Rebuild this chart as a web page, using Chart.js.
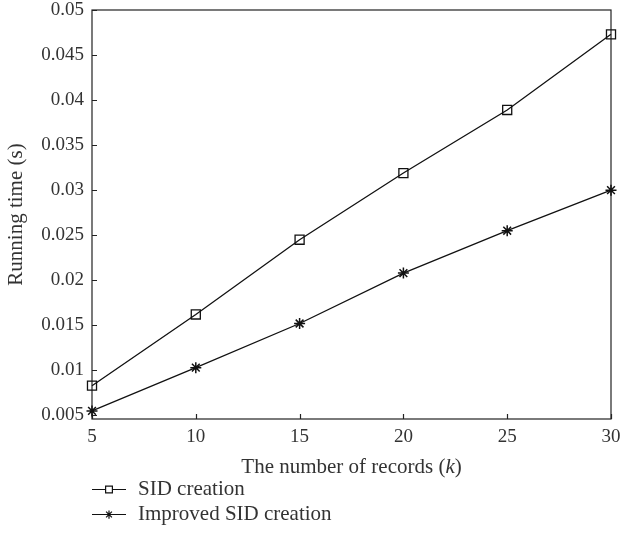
<!DOCTYPE html>
<html>
<head>
<meta charset="utf-8">
<script src="https://cdn.jsdelivr.net/npm/chart.js@4.4.1/dist/chart.umd.min.js"></script>
<style>
  html, body { margin: 0; padding: 0; background: #fff; }
</style>
</head>
<body>
<div style="width:621px;height:560px"><canvas id="runChart"></canvas></div>
<script>
// data
const records = [5, 10, 15, 20, 25, 30];
const sidCreation = [0.0083, 0.0162, 0.0245, 0.0319, 0.0389, 0.0473];
const improvedSidCreation = [0.0055, 0.0103, 0.0152, 0.0208, 0.0255, 0.0300];
const xTicks = [5, 10, 15, 20, 25, 30];
const yTicks = [0.005, 0.01, 0.015, 0.02, 0.025, 0.03, 0.035, 0.04, 0.045, 0.05];
const seriesNames = ['SID creation', 'Improved SID creation'];

const serif = 'Liberation Serif';
const textColor = '#333';

const toPoints = (ys) => records.map((x, i) => ({ x: x, y: ys[i] }));

// labels may stick out; keep the plot box where the figure has it
const noPad = s => { s.paddingTop = 0; s.paddingBottom = 0; s.paddingLeft = 0; s.paddingRight = 0; };

// box round the plot plus inward tick marks
const frame = {
  id: 'frame',
  beforeDatasetsDraw(chart) {
    const { ctx, chartArea: a, scales } = chart;
    ctx.save();
    ctx.strokeStyle = '#222';
    ctx.lineWidth = 1.2;
    ctx.strokeRect(a.left, a.top, a.right - a.left, a.bottom - a.top);
    ctx.beginPath();
    yTicks.forEach(v => {
      const y = Math.round(scales.y.getPixelForValue(v)) + 0.5;
      ctx.moveTo(a.left, y);
      ctx.lineTo(a.left + 5, y);
    });
    xTicks.forEach(v => {
      const x = Math.round(scales.x.getPixelForValue(v)) + 0.5;
      ctx.moveTo(x, a.bottom);
      ctx.lineTo(x, a.bottom - 5);
    });
    ctx.stroke();
    ctx.restore();
  },
  afterDraw(chart) {
    const { ctx, chartArea: a } = chart;
    ctx.save();
    // x axis title with italic k
    const parts = [
      ['The number of records (', '21px "' + serif + '"'],
      ['k', 'italic 21px "' + serif + '"'],
      [')', '21px "' + serif + '"']
    ];
    let total = 0;
    parts.forEach(p => { ctx.font = p[1]; total += ctx.measureText(p[0]).width; });
    let x = (a.left + a.right) / 2 - total / 2;
    ctx.fillStyle = textColor;
    ctx.textBaseline = 'middle';
    ctx.textAlign = 'left';
    parts.forEach(p => {
      ctx.font = p[1];
      ctx.fillText(p[0], x, 467);
      x += ctx.measureText(p[0]).width;
    });

    // legend below the axis
    const rows = [489, 514];
    chart.data.datasets.forEach((ds, i) => {
      const y = rows[i] + 0.5;
      ctx.strokeStyle = '#111';
      ctx.lineWidth = 1.2;
      ctx.beginPath();
      ctx.moveTo(92, y);
      ctx.lineTo(126, y);
      ctx.stroke();
      ctx.fillStyle = '#fff';
      Chart.helpers.drawPoint(ctx, {
        pointStyle: ds.pointStyle, radius: ds.pointRadius * 0.75, rotation: 0, borderWidth: 1.2
      }, 109, y);
      ctx.fillStyle = textColor;
      ctx.font = '21px "' + serif + '"';
      ctx.fillText(ds.label, 138, rows[i]);
    });
    ctx.restore();
  }
};

new Chart(document.getElementById('runChart'), {
  type: 'line',
  data: {
    datasets: [
      {
        label: seriesNames[0],
        data: toPoints(sidCreation),
        borderColor: '#111',
        borderWidth: 1.3,
        pointStyle: 'rect',
        pointRadius: 6.4,
        pointBorderWidth: 1.3,
        pointBackgroundColor: 'rgba(255,255,255,0)',
        pointBorderColor: '#111',
        clip: false
      },
      {
        label: seriesNames[1],
        data: toPoints(improvedSidCreation),
        borderColor: '#111',
        borderWidth: 1.3,
        pointStyle: 'star',
        pointRadius: 5.5,
        pointBorderWidth: 1.5,
        pointBorderColor: '#111',
        clip: false
      }
    ]
  },
  options: {
    responsive: true,
    maintainAspectRatio: false,
    animation: false,
    layout: { padding: { top: 10, right: 10, left: 0, bottom: 0 } },
    plugins: {
      legend: { display: false },
      tooltip: { enabled: false }
    },
    scales: {
      x: {
        type: 'linear',
        min: 5,
        max: 30,
        grid: { display: false, drawTicks: false },
        border: { display: false },
        ticks: { color: textColor, font: { family: serif, size: 19 }, padding: 7 },
        afterBuildTicks: s => { s.ticks = xTicks.map(v => ({ value: v })); },
        afterFit: s => { s.height = 141; noPad(s); }
      },
      y: {
        min: 0.0046,
        max: 0.05,
        grid: { display: false, drawTicks: false },
        border: { display: false },
        ticks: {
          color: textColor,
          font: { family: serif, size: 19 },
          padding: 8,
          callback: v => String(+v.toFixed(3))
        },
        afterBuildTicks: s => { s.ticks = yTicks.map(v => ({ value: v })); },
        afterFit: s => { s.width = 92; noPad(s); },
        title: {
          display: true,
          text: 'Running time (s)',
          color: textColor,
          font: { family: serif, size: 21 },
          padding: { top: 4, bottom: 0 }
        }
      }
    }
  },
  plugins: [frame]
});
</script>
</body>
</html>
